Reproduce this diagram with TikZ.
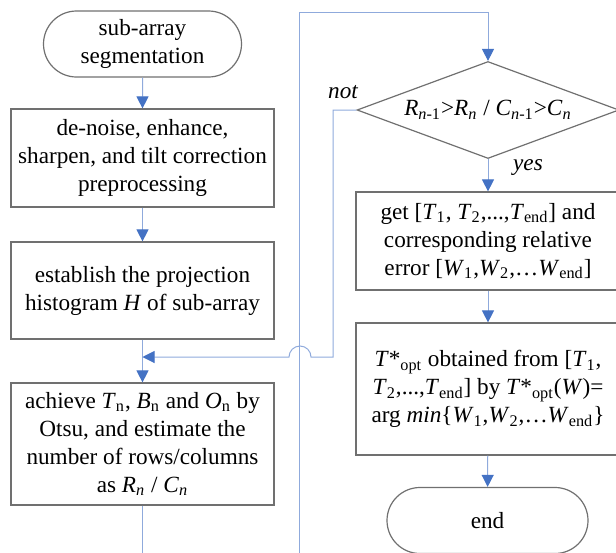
\documentclass[tikz,border=0pt]{standalone}
\usepackage{fontspec}
\setmainfont{LiberationSerif}[Extension=.ttf,UprightFont=*-Regular,ItalicFont=*-Italic,BoldFont=*-Bold,BoldItalicFont=*-BoldItalic]
\usetikzlibrary{arrows.meta,shapes.geometric,shapes.misc}

\definecolor{linkblue}{RGB}{143,170,220}
\definecolor{tipblue}{RGB}{68,114,196}
\definecolor{boxgray}{RGB}{112,112,112}

\newcommand{\vr}[1]{\textit{#1}}
\newcommand{\sbs}[1]{\textsubscript{#1}}

\begin{document}
\begin{tikzpicture}[x=0.5pt,y=-0.5pt,
  font=\fontsize{11.6}{14}\selectfont,
  flow/.style={draw=boxgray,line width=0.6pt,align=center,inner sep=0pt},
  procbox/.style={flow,rectangle,minimum width=131.5pt,minimum height=#1},
  termbox/.style={flow,rounded rectangle,minimum width=#1,minimum height=33pt},
  decbox/.style={flow,diamond,aspect=2.7,minimum width=131pt,minimum height=48.5pt},
  link/.style={draw=linkblue,line width=0.5pt},
  go/.style={link,-{Triangle[length=6pt,width=6pt,color=tipblue]}}]
\useasboundingbox (0,0) rectangle (616,552);
% ---- left column ----
\node[termbox=99pt] (start) at (142.5,44) {sub-array\\segmentation};
\node[procbox=49pt] (prep) at (142.5,158) {de-noise, enhance,\\sharpen, and tilt correction\\preprocessing};
\node[procbox=48.5pt] (hist) at (142.5,290.5) {establish the projection\\histogram \vr{H} of sub-array};
\node[procbox=61pt] (otsu) at (142.5,444) {achieve \vr{T}\sbs{n}, \vr{B}\sbs{n} and \vr{O}\sbs{n} by\\Otsu, and estimate the\\number of rows/columns\\as \vr{R}\sbs{\vr{n}} / \vr{C}\sbs{\vr{n}}};
% ---- right column ----
\node[decbox] (cond) at (488,110) {\vr{R}\sbs{\vr{n}-1}>\vr{R}\sbs{\vr{n}} / \vr{C}\sbs{\vr{n}-1}>\vr{C}\sbs{\vr{n}}};
\node[procbox=49pt,minimum width=132pt] (gett) at (488,241) {get [\vr{T}\sbs{1}, \vr{T}\sbs{2},...,\vr{T}\sbs{end}] and\\corresponding relative\\error [\vr{W}\sbs{1},\vr{W}\sbs{2},\ldots\vr{W}\sbs{end}]};
\node[procbox=66pt,minimum width=132pt] (topt) at (488,389) {\vr{T}*\sbs{opt} obtained from [\vr{T}\sbs{1},\\\vr{T}\sbs{2},...,\vr{T}\sbs{end}] by \vr{T}*\sbs{opt}(\vr{W})=\\arg \vr{min}\{\vr{W}\sbs{1},\vr{W}\sbs{2},\ldots\vr{W}\sbs{end}\}};
\node[termbox=100.5pt] (stop) at (487.5,520.5) {end};
% ---- branch labels ----
\node[font=\fontsize{11.6}{14}\selectfont\itshape] (notlbl) at (343,92) {not};
\node[font=\fontsize{11.6}{14}\selectfont\itshape] (yeslbl) at (528,168) {yes};
% ---- helper points ----
\coordinate (merge) at (142.5,357);
\coordinate (loopbl) at (299,580);
\coordinate (looptl) at (299,12);
% ---- connectors ----
\draw[go] (start) -- (prep);
\draw[go] (prep) -- (hist);
\draw[go] (hist) -- (otsu);
\draw[go] (otsu.south) |- (loopbl) -- (looptl) -| (cond.north);
\draw[go] (cond.west) -| (333,357) -- (311,357) arc[start angle=0,end angle=180,radius=5.5pt] -- (merge);
\draw[go] (cond) -- (gett);
\draw[go] (gett) -- (topt);
\draw[go] (topt) -- (stop);
\end{tikzpicture}
\end{document}
